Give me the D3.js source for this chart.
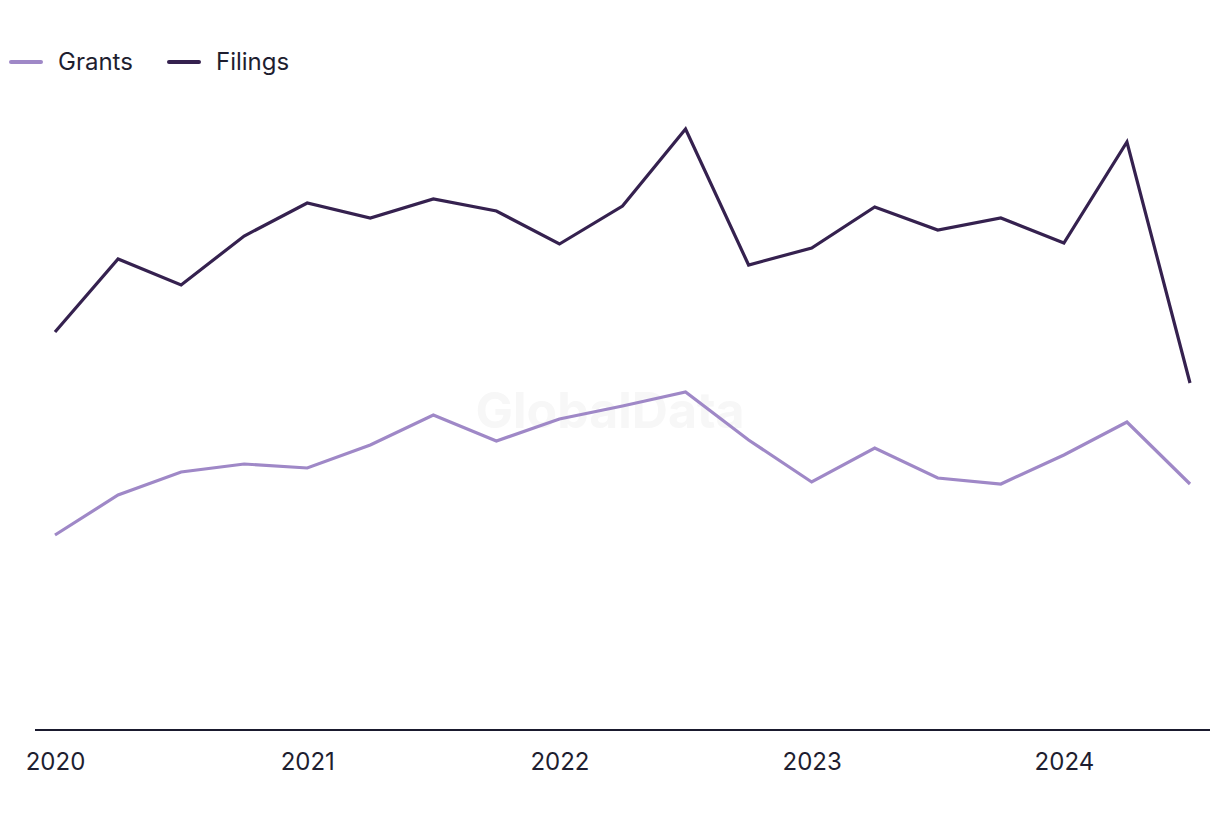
<!DOCTYPE html>
<html><head><meta charset="utf-8">
<script src="https://cdn.jsdelivr.net/npm/d3@7"></script>
<style>body{margin:0;background:#fff;} svg{display:block;}</style>
</head><body>
<svg id="chart" width="1220" height="820"></svg>
<script>
const quarters = ["2020Q1","2020Q2","2020Q3","2020Q4","2021Q1","2021Q2","2021Q3","2021Q4","2022Q1","2022Q2","2022Q3","2022Q4","2023Q1","2023Q2","2023Q3","2023Q4","2024Q1","2024Q2","2024Q3"];
const filings = [398, 471, 445, 494, 527, 512, 531, 519, 486, 524, 601, 465, 482, 523, 500, 512, 487, 588, 347];
const grants  = [195, 235, 258, 266, 262, 285, 315, 289, 311, 324, 338, 290, 248, 282, 252, 246, 275, 308, 246];
const tickYears = ["2020","2021","2022","2023","2024"];
const seriesNames = ["Grants","Filings"];
const colors = {Grants:"#9f88c7", Filings:"#35214f"};

const svg = d3.select("#chart");
const x = d3.scalePoint().domain(quarters).range([55, 1190]);
const y = d3.scaleLinear().domain([0, 700]).range([730, 30]);
const font = "Inter, 'Liberation Sans', sans-serif";

// watermark
svg.append("text").attr("x", 610).attr("y", 428).attr("text-anchor","middle")
  .attr("font-family", font).attr("font-weight", 700).attr("font-size", 50)
  .attr("fill", "#f7f7f7").text("GlobalData");

// axis
const xAxis = d3.axisBottom(x).tickValues(tickYears.map(t=>t+"Q1")).tickFormat(d=>d.slice(0,4)).tickSize(0).tickPadding(23);
const gx = svg.append("g").attr("transform","translate(0,730)").call(xAxis);
gx.select(".domain").attr("d","M35,0H1210").attr("stroke","#1a1a2e").attr("stroke-width",2);
gx.selectAll("text").attr("font-family", font).attr("font-size", 24).attr("fill","#1e1e30");

const line = d3.line().x((d,i)=>x(quarters[i])).y(d=>y(d));
svg.append("path").datum(grants).attr("d", line).attr("fill","none").attr("stroke",colors.Grants).attr("stroke-width",3.2).attr("stroke-linejoin","miter");
svg.append("path").datum(filings).attr("d", line).attr("fill","none").attr("stroke",colors.Filings).attr("stroke-width",3.2).attr("stroke-linejoin","miter");

// legend
const lg = svg.append("g");
const lx = [10, 168];
seriesNames.forEach((n,i)=>{
  lg.append("line").attr("x1",lx[i]+1).attr("x2",lx[i]+31).attr("y1",62).attr("y2",62)
    .attr("stroke",colors[n]).attr("stroke-width",4).attr("stroke-linecap","round");
  lg.append("text").attr("x",lx[i]+48).attr("y",70).attr("font-family",font).attr("font-size",24)
    .attr("fill","#1e1e30").text(n);
});
</script>
</body></html>
